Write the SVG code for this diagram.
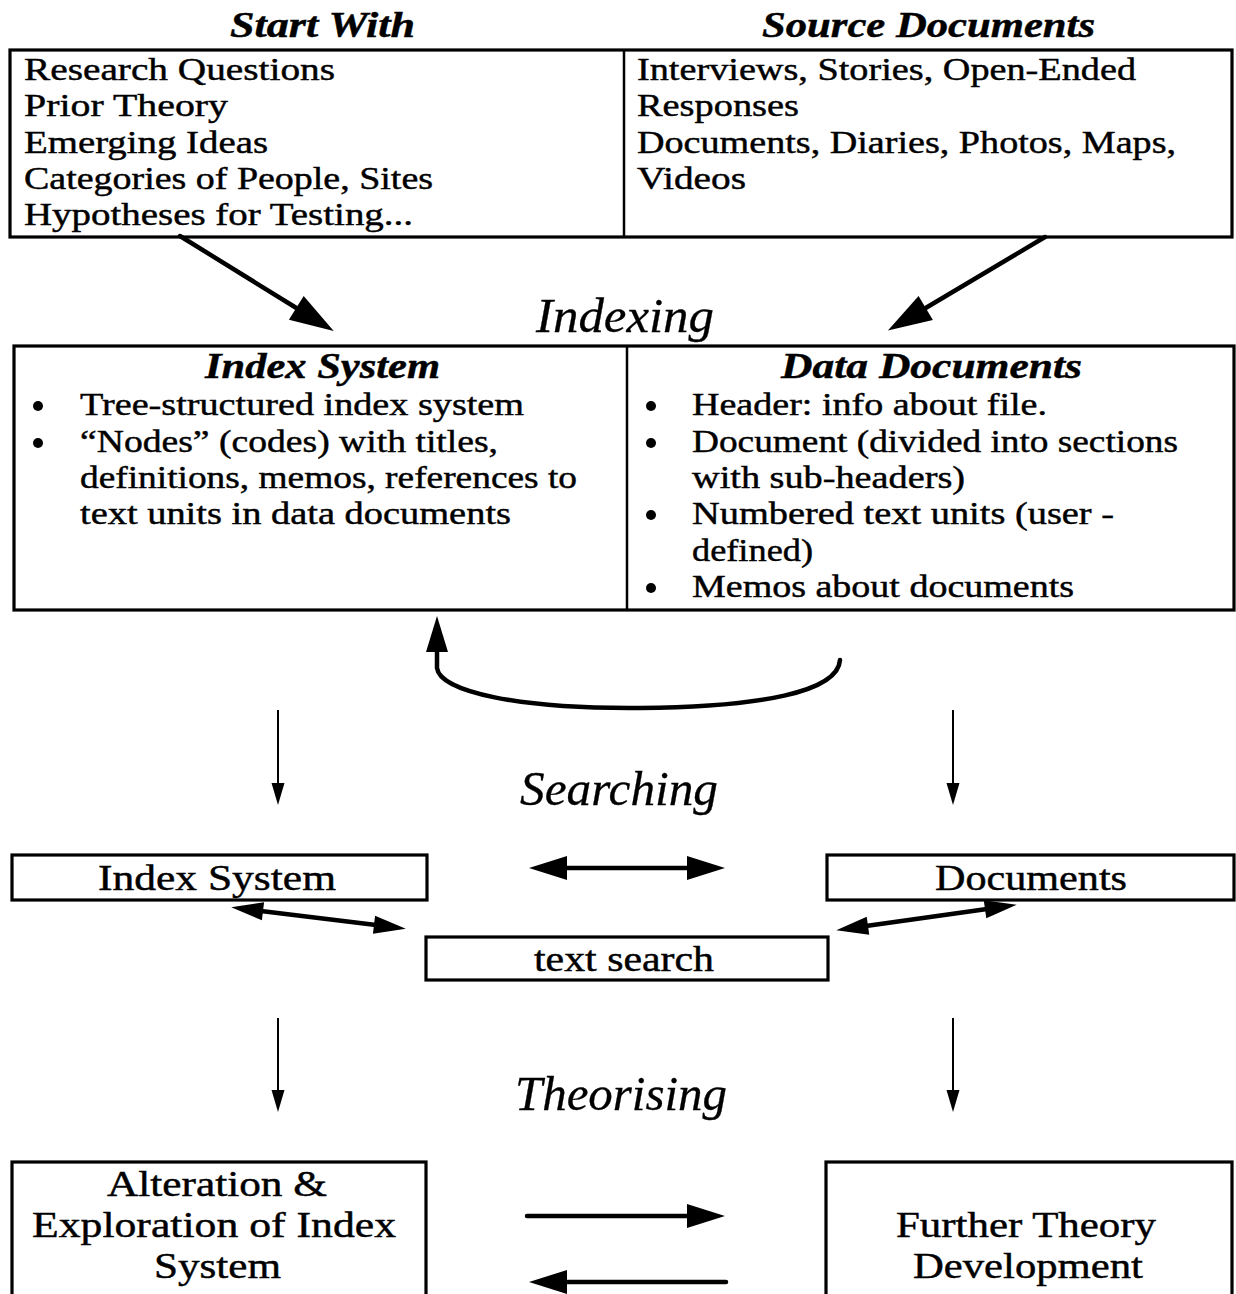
<svg xmlns="http://www.w3.org/2000/svg" width="1236" height="1294" viewBox="0 0 1236 1294">
  <style>
    .box { fill: #fff; stroke: #000; stroke-width: 3.2; }
    .div { stroke: #000; stroke-width: 2.5; }
    text { font-family: "Liberation Serif", "Times New Roman", serif; fill: #000; stroke: #000; stroke-width: 0.45; }
    .body { font-size: 32px; }
    .head { font-size: 36px; font-weight: bold; font-style: italic; }
    .phase { font-size: 48px; font-style: italic; stroke-width: 0.3; }
    .small { font-size: 36px; }
    .thick { stroke: #000; stroke-width: 4.5; fill: none; stroke-linecap: round; }
    .mid { stroke: #000; stroke-width: 4.5; fill: none; }
    .thin { stroke: #000; stroke-width: 2; fill: none; }
    .dot { fill: #000; }
  </style>
  <defs>
    <marker id="headBig" markerUnits="userSpaceOnUse" markerWidth="46" markerHeight="30" refX="2" refY="14" orient="auto" overflow="visible">
      <path d="M0,0 L44,14 L0,28 z" fill="#000"/>
    </marker>
    <marker id="headCurve" markerUnits="userSpaceOnUse" markerWidth="38" markerHeight="24" refX="2" refY="11" orient="auto" overflow="visible">
      <path d="M0,0 L36,11 L0,22 z" fill="#000"/>
    </marker>
    <marker id="headMid" markerUnits="userSpaceOnUse" markerWidth="40" markerHeight="26" refX="2" refY="12" orient="auto-start-reverse" overflow="visible">
      <path d="M0,0 L38,12 L0,24 z" fill="#000"/>
    </marker>
    <marker id="headDiag" markerUnits="userSpaceOnUse" markerWidth="34" markerHeight="20" refX="2" refY="9" orient="auto-start-reverse" overflow="visible">
      <path d="M0,0 L32,9 L0,18 z" fill="#000"/>
    </marker>
    <marker id="headThin" markerUnits="userSpaceOnUse" markerWidth="24" markerHeight="14" refX="1" refY="6.5" orient="auto" overflow="visible">
      <path d="M0,0 L22,6.5 L0,13 z" fill="#000"/>
    </marker>
  </defs>

  <!-- stage captions -->
  <g id="caption-start">
    <text class="head" x="230" y="37" textLength="185" lengthAdjust="spacingAndGlyphs">Start With</text>
  </g>
  <g id="caption-source">
    <text class="head" x="762" y="37" textLength="333" lengthAdjust="spacingAndGlyphs">Source Documents</text>
  </g>
  <g id="phase-indexing">
    <text class="phase" x="536" y="332" textLength="178" lengthAdjust="spacingAndGlyphs">Indexing</text>
  </g>
  <g id="phase-searching">
    <text class="phase" x="520" y="805" textLength="198" lengthAdjust="spacingAndGlyphs">Searching</text>
  </g>
  <g id="phase-theorising">
    <text class="phase" x="515" y="1110" textLength="212" lengthAdjust="spacingAndGlyphs">Theorising</text>
  </g>

  <!-- top row: inputs -->
  <g id="inputs">
    <rect class="box" x="10" y="50" width="1222" height="187"/>
    <line class="div" x1="624" y1="50" x2="624" y2="237"/>
  </g>
  <g id="start-with">
    <text class="body" x="24" y="80" textLength="311" lengthAdjust="spacingAndGlyphs">Research Questions</text>
    <text class="body" x="24" y="116" textLength="204" lengthAdjust="spacingAndGlyphs">Prior Theory</text>
    <text class="body" x="24" y="153" textLength="244" lengthAdjust="spacingAndGlyphs">Emerging Ideas</text>
    <text class="body" x="24" y="189" textLength="409" lengthAdjust="spacingAndGlyphs">Categories of People, Sites</text>
    <text class="body" x="24" y="225" textLength="389" lengthAdjust="spacingAndGlyphs">Hypotheses for Testing...</text>
  </g>
  <g id="source-documents">
    <text class="body" x="637" y="80" textLength="499" lengthAdjust="spacingAndGlyphs">Interviews, Stories, Open-Ended</text>
    <text class="body" x="637" y="116" textLength="162" lengthAdjust="spacingAndGlyphs">Responses</text>
    <text class="body" x="637" y="153" textLength="539" lengthAdjust="spacingAndGlyphs">Documents, Diaries, Photos, Maps,</text>
    <text class="body" x="637" y="189" textLength="109" lengthAdjust="spacingAndGlyphs">Videos</text>
  </g>

  <!-- middle row: index system and data documents -->
  <g id="indexing-store">
    <rect class="box" x="14" y="346" width="1220" height="264"/>
    <line class="div" x1="627" y1="346" x2="627" y2="610"/>
  </g>
  <g id="index-system">
    <text class="head" x="205" y="378" textLength="235" lengthAdjust="spacingAndGlyphs">Index System</text>
    <circle class="dot" cx="38" cy="406" r="5"/>
    <text class="body" x="80" y="415" textLength="444" lengthAdjust="spacingAndGlyphs">Tree-structured index system</text>
    <circle class="dot" cx="38" cy="443" r="5"/>
    <text class="body" x="80" y="452" textLength="418" lengthAdjust="spacingAndGlyphs">“Nodes” (codes) with titles,</text>
    <text class="body" x="80" y="488" textLength="497" lengthAdjust="spacingAndGlyphs">definitions, memos, references to</text>
    <text class="body" x="80" y="524" textLength="431" lengthAdjust="spacingAndGlyphs">text units in data documents</text>
  </g>
  <g id="data-documents">
    <text class="head" x="781" y="378" textLength="301" lengthAdjust="spacingAndGlyphs">Data Documents</text>
    <circle class="dot" cx="651" cy="406" r="5"/>
    <text class="body" x="692" y="415" textLength="355" lengthAdjust="spacingAndGlyphs">Header: info about file.</text>
    <circle class="dot" cx="651" cy="443" r="5"/>
    <text class="body" x="692" y="452" textLength="486" lengthAdjust="spacingAndGlyphs">Document (divided into sections</text>
    <text class="body" x="692" y="488" textLength="273" lengthAdjust="spacingAndGlyphs">with sub-headers)</text>
    <circle class="dot" cx="651" cy="515" r="5"/>
    <text class="body" x="692" y="524" textLength="422" lengthAdjust="spacingAndGlyphs">Numbered text units (user -</text>
    <text class="body" x="692" y="561" textLength="121" lengthAdjust="spacingAndGlyphs">defined)</text>
    <circle class="dot" cx="651" cy="588" r="5"/>
    <text class="body" x="692" y="597" textLength="382" lengthAdjust="spacingAndGlyphs">Memos about documents</text>
  </g>

  <!-- searching row -->
  <g id="search-index">
    <rect class="box" x="12" y="855" width="415" height="45"/>
    <text class="small" x="98" y="890" textLength="238" lengthAdjust="spacingAndGlyphs">Index System</text>
  </g>
  <g id="search-documents">
    <rect class="box" x="827" y="855" width="407" height="45"/>
    <text class="small" x="935" y="890" textLength="192" lengthAdjust="spacingAndGlyphs">Documents</text>
  </g>
  <g id="text-search">
    <rect class="box" x="426" y="937" width="402" height="43"/>
    <text class="small" x="534" y="971" textLength="180" lengthAdjust="spacingAndGlyphs">text search</text>
  </g>

  <!-- theorising row -->
  <g id="alteration">
    <rect class="box" x="12" y="1162" width="414" height="160"/>
    <text class="small" x="107" y="1196" textLength="220" lengthAdjust="spacingAndGlyphs">Alteration &amp;</text>
    <text class="small" x="32" y="1237" textLength="364" lengthAdjust="spacingAndGlyphs">Exploration of Index</text>
    <text class="small" x="154" y="1278" textLength="127" lengthAdjust="spacingAndGlyphs">System</text>
  </g>
  <g id="further-theory">
    <rect class="box" x="826" y="1162" width="406" height="160"/>
    <text class="small" x="896" y="1237" textLength="260" lengthAdjust="spacingAndGlyphs">Further Theory</text>
    <text class="small" x="913" y="1278" textLength="230" lengthAdjust="spacingAndGlyphs">Development</text>
  </g>

  <!-- connectors -->
  <g id="connectors">
    <line class="thick" x1="180" y1="236" x2="298" y2="309" marker-end="url(#headBig)"/>
    <line class="thick" x1="1045" y1="237" x2="924" y2="309" marker-end="url(#headBig)"/>
    <path class="thick" d="M840,660 C838,692 760,707 640,708 C520,709 440,692 437,668 L437,650" marker-end="url(#headCurve)"/>

    <line class="thin" x1="278" y1="710" x2="278" y2="784" marker-end="url(#headThin)"/>
    <line class="thin" x1="953" y1="710" x2="953" y2="784" marker-end="url(#headThin)"/>

    <line class="mid" x1="565" y1="868" x2="689" y2="868" marker-start="url(#headMid)" marker-end="url(#headMid)"/>
    <line class="mid" x1="261" y1="911" x2="376" y2="925" marker-start="url(#headDiag)" marker-end="url(#headDiag)"/>
    <line class="mid" x1="866" y1="926" x2="987" y2="909" marker-start="url(#headDiag)" marker-end="url(#headDiag)"/>

    <line class="thin" x1="278" y1="1018" x2="278" y2="1091" marker-end="url(#headThin)"/>
    <line class="thin" x1="953" y1="1018" x2="953" y2="1091" marker-end="url(#headThin)"/>

    <line class="thick" x1="527" y1="1216" x2="689" y2="1216" marker-end="url(#headMid)"/>
    <line class="thick" x1="726" y1="1282" x2="565" y2="1282" marker-end="url(#headMid)"/>
  </g>
</svg>
